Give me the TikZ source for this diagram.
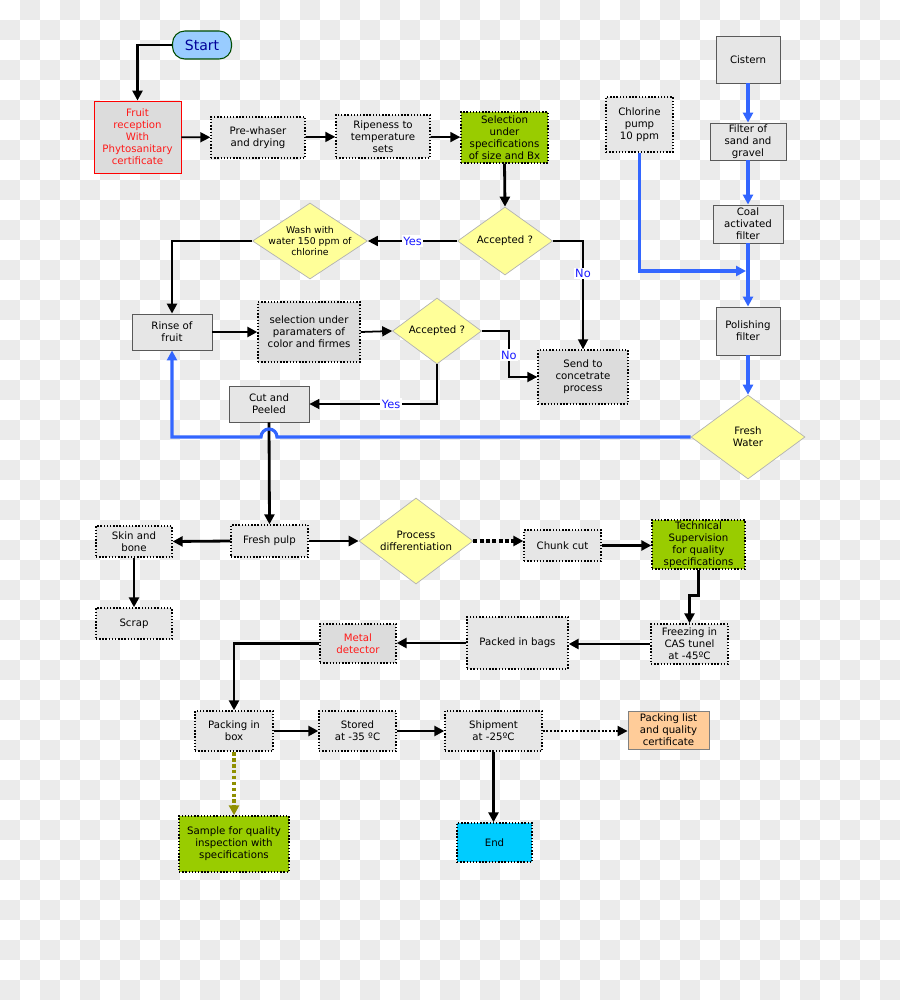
\documentclass[tikz,border=0pt]{standalone}
\usepackage{fontspec}
\setmainfont{DejaVu Sans}
\usetikzlibrary{arrows.meta,positioning,shapes.geometric,calc}
\definecolor{fpgray}{HTML}{E6E6E6}
\definecolor{fpdark}{HTML}{DCDCDC}
\definecolor{fpyellow}{HTML}{FFFF99}
\definecolor{fpgreen}{HTML}{99CC00}
\definecolor{fpblue}{HTML}{3366FF}
\definecolor{fpsky}{HTML}{99CCFF}
\definecolor{fpcyan}{HTML}{00CCFF}
\definecolor{fporange}{HTML}{FFCC99}
\definecolor{fpolive}{HTML}{8F8F00}
\definecolor{fpcheck}{HTML}{EBEBEB}
\definecolor{fpred}{HTML}{FF1A1A}
\definecolor{fpans}{HTML}{1A1AFF}

\tikzset{
  dotbox/.style={draw, densely dotted, line width=0.8pt, fill=fpgray, rectangle, inner sep=0.5pt},
  plainbox/.style={draw=black!65, line width=0.5pt, fill=fpgray, rectangle, inner sep=0.5pt},
  decision/.style={diamond, draw=black!30, line width=0.4pt, fill=fpyellow, inner sep=0pt},
  tip/.style={-{Triangle[length=0.2cm,width=0.2cm]}},
  thickarrow/.style={tip, line width=1.6pt},
  thinarrow/.style={tip, line width=1pt},
  bluearrow/.style={tip, draw=fpblue, line width=1.8pt},
  answer/.style={fill=white, text=fpans, inner sep=0.8pt, font=\fontsize{6.5}{7.5}\selectfont},
}

\begin{document}
\begin{tikzpicture}[x=0.02cm, y=-0.02cm, every node/.style={font=\fontsize{5.8}{6.8}\selectfont, align=center}]
  \useasboundingbox (0,0) rectangle (900,1000);
  % checker background
  \foreach \i in {0,...,44}{
    \pgfmathtruncatemacro{\jfirst}{mod(\i+1,2)}
    \pgfmathtruncatemacro{\jnext}{\jfirst+2}
    \foreach \j in {\jfirst,\jnext,...,49}
      \fill[fpcheck] (20*\i,20*\j) rectangle ++(20,20);
  }

  % reception line
  \node[draw=black!70!green, line width=0.6pt, fill=fpsky, rounded corners=7pt, minimum width=1.18cm, minimum height=0.56cm, text=blue!60!black, font=\fontsize{8}{9}\selectfont] (start) at (202,45) {Start};
  \node[draw=red, line width=0.5pt, fill=fpdark, minimum width=1.74cm, minimum height=1.44cm, text=fpred, inner sep=0.5pt] (recep) at (137.5,137) {Fruit\\reception\\With\\Phytosanitary\\certificate};
  \node[dotbox, minimum width=1.88cm, minimum height=0.82cm] (prewash) at (258,137.5) {Pre-whaser\\and drying};
  \node[dotbox, minimum width=1.88cm, minimum height=0.86cm] (ripe) at (383,136.5) {Ripeness to\\temperature\\sets};
  \node[dotbox, fill=fpgreen, minimum width=1.74cm, minimum height=1.02cm] (selsize) at (504.5,137.5) {Selection\\under\\specifications\\of size and Bx};

  % first checks
  \node[decision, minimum width=1.9cm, minimum height=1.36cm, label=center:{Accepted ?}] (acc1) at (505,241) {};
  \node[decision, minimum width=2.3cm, minimum height=1.52cm, label={[font=\fontsize{5.3}{6.4}\selectfont]center:{Wash with\\water 150 ppm of\\chlorine}}] (wash) at (310,241) {};
  \node[plainbox, minimum width=1.6cm, minimum height=0.72cm] (rinse) at (172,332) {Rinse of\\fruit};
  \node[dotbox, fill=fpdark, minimum width=2.04cm, minimum height=1.2cm] (selcolor) at (309,332) {selection under\\paramaters of\\color and firmes};
  \node[decision, minimum width=1.78cm, minimum height=1.32cm, label=center:{Accepted ?}] (acc2) at (437,331) {};
  \node[dotbox, fill=fpdark, minimum width=1.8cm, minimum height=1.08cm] (send) at (583,377) {Send to\\concetrate\\process};
  \node[plainbox, minimum width=1.6cm, minimum height=0.72cm] (cut) at (269,404) {Cut and\\Peeled};

  % water line
  \node[dotbox, minimum width=1.34cm, minimum height=1.1cm] (chlorine) at (639.5,124.5) {Chlorine\\pump\\10 ppm};
  \node[plainbox, minimum width=1.28cm, minimum height=0.94cm] (cistern) at (748,59.5) {Cistern};
  \node[plainbox, minimum width=1.52cm, minimum height=0.74cm] (sandf) at (748,141.5) {Filter of\\sand and\\gravel};
  \node[plainbox, minimum width=1.4cm, minimum height=0.76cm] (coalf) at (748,224) {Coal\\activated\\filter};
  \node[plainbox, minimum width=1.28cm, minimum height=0.96cm] (polish) at (748,331) {Polishing\\filter};
  \node[decision, minimum width=2.28cm, minimum height=1.68cm, label=center:{Fresh\\Water}] (freshw) at (748,437) {};
  \coordinate (join) at (746,271);

  % pulp line
  \node[dotbox, minimum width=1.54cm, minimum height=0.64cm] (pulp) at (269.5,541) {Fresh pulp};
  \node[dotbox, minimum width=1.52cm, minimum height=0.62cm] (skin) at (134,541.5) {Skin and\\bone};
  \node[dotbox, minimum width=1.52cm, minimum height=0.62cm] (scrap) at (134,623.5) {Scrap};
  \node[decision, minimum width=2.28cm, minimum height=1.72cm, label=center:{Process\\differentiation}] (procdiff) at (416,541) {};
  \node[dotbox, minimum width=1.54cm, minimum height=0.62cm] (chunk) at (562.5,545.5) {Chunk cut};
  \node[dotbox, fill=fpgreen, minimum width=1.86cm, minimum height=0.98cm] (tech) at (698.5,544.5) {Technical\\Supervision\\for quality\\specifications};
  \node[dotbox, minimum width=1.54cm, minimum height=0.8cm] (freeze) at (689.5,644) {Freezing in\\CAS tunel\\at -45ºC};
  \node[dotbox, minimum width=2.02cm, minimum height=1.04cm] (bags) at (517.5,643) {Packed in bags};
  \node[dotbox, fill=fpdark, minimum width=1.52cm, minimum height=0.78cm, text=fpred] (metal) at (358,643.5) {Metal\\detector};

  % shipping line
  \node[dotbox, minimum width=1.56cm, minimum height=0.8cm] (packbox) at (234,731) {Packing in\\box};
  \node[dotbox, minimum width=1.54cm, minimum height=0.8cm] (stored) at (357.5,731) {Stored\\at -35 ºC};
  \node[dotbox, minimum width=1.94cm, minimum height=0.8cm] (ship) at (493.5,731) {Shipment\\at -25ºC};
  \node[draw=black!50, line width=0.5pt, fill=fporange, minimum width=1.62cm, minimum height=0.76cm, inner sep=0.5pt] (packlist) at (668.5,730) {Packing list\\and quality\\certificate};
  \node[dotbox, fill=fpcyan, minimum width=1.5cm, minimum height=0.78cm] (theend) at (494.5,842.5) {End};
  \node[dotbox, fill=fpgreen, minimum width=2.2cm, minimum height=1.12cm] (sample) at (234,844) {Sample for quality\\inspection with\\specifications};

  % connectors
  \draw[thickarrow] (start.west) -| (recep.north);
  \draw[thinarrow] (recep) -- (prewash);
  \draw[thinarrow] (prewash) -- (ripe);
  \draw[thinarrow] (ripe) -- (selsize);
  \draw[thickarrow] (selsize.south) -- (acc1.north);
  \draw[thinarrow] (acc1.west) -- node[answer]{Yes} (wash.east);
  \draw[thinarrow] (acc1.east) -| node[answer, pos=0.65]{No} (send.north);
  \draw[thickarrow] (wash.west) -| (rinse.north);
  \draw[thickarrow] (rinse.east) -- (selcolor.west);
  \draw[thinarrow] (selcolor.east) -- (acc2.west);
  \draw[thinarrow] (acc2.east) -- ++(27,0) |- node[answer, pos=0.26]{No} (send.west);
  \draw[thinarrow] (acc2.south) |- node[answer, pos=0.68]{Yes} (cut.east);
  \draw[thickarrow] (cut.south) -- (pulp.north);

  \draw[bluearrow] (cistern) -- (sandf);
  \draw[bluearrow] (sandf) -- (coalf);
  \draw[bluearrow] (coalf) -- (polish);
  \draw[bluearrow] (polish) -- (freshw.north);
  \draw[bluearrow] (chlorine.south) |- (join);
  \draw[bluearrow] (freshw.west) -- ($(cut.south |- freshw.west)+(8,0)$)
    arc[start angle=0, end angle=180, radius=0.16cm] -| (rinse.south);

  \draw[thickarrow] (pulp.west) -- (skin.east);
  \draw[thickarrow] (skin.south) -- (scrap.north);
  \draw[thickarrow] (pulp.east) -- (procdiff.west);
  \draw[tip, line width=1.8pt, dash pattern=on 2.2pt off 1.4pt] (procdiff.east) -- (procdiff.east -| chunk.west);
  \draw[thickarrow] (chunk.east) -- (chunk.east -| tech.west);
  \draw[thickarrow] (tech.south) -- ++(0,26) -| (freeze.north);
  \draw[thickarrow] (freeze.west) -- (freeze.west -| bags.east);
  \draw[thickarrow] (bags.west) -- (bags.west -| metal.east);
  \draw[thickarrow] (metal.west) -| (packbox.north);
  \draw[thickarrow] (packbox) -- (stored);
  \draw[thickarrow] (stored) -- (ship);
  \draw[tip, line width=1.1pt, densely dotted] (ship.east) -- (ship.east -| packlist.west);
  \draw[thickarrow] (ship.south) -- (ship.south |- theend.north);
  \draw[tip, draw=fpolive, line width=1.8pt, dash pattern=on 2.2pt off 1.2pt] (packbox.south) -- (sample.north);
\end{tikzpicture}
\end{document}
